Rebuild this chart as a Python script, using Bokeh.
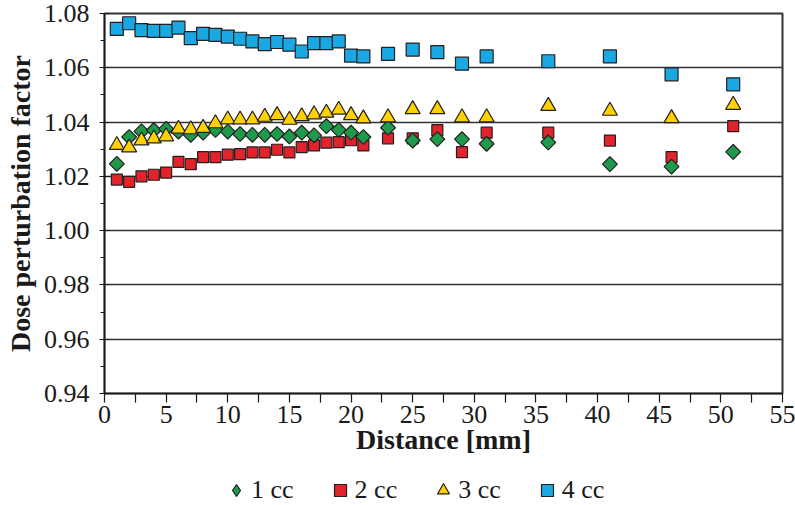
import math
from bokeh.plotting import figure
from bokeh.layouts import column
from bokeh.models import (Legend, LegendItem, ColumnDataSource, FixedTicker,
                          NumeralTickFormatter, Range1d)
from bokeh.embed import file_html
from bokeh.resources import INLINE

# ---------------- data ----------------
distance = [1, 2, 3, 4, 5, 6, 7, 8, 9, 10, 11, 12, 13, 14, 15, 16, 17, 18, 19, 20, 21,
            23, 25, 27, 29, 31, 36, 41, 46, 51]

dpf_1cc = [1.0246, 1.0345, 1.0366, 1.0370, 1.0375, 1.0365, 1.0353, 1.0361, 1.0371, 1.0365,
           1.0356, 1.0353, 1.0353, 1.0356, 1.0347, 1.0361, 1.0351, 1.0385, 1.0371, 1.0361,
           1.0345, 1.0379, 1.0332, 1.0337, 1.0337, 1.0320, 1.0325, 1.0245, 1.0236, 1.0290]

dpf_2cc = [1.0188, 1.0180, 1.0200, 1.0206, 1.0214, 1.0253, 1.0245, 1.0271, 1.0271, 1.0280,
           1.0282, 1.0288, 1.0288, 1.0298, 1.0288, 1.0308, 1.0314, 1.0324, 1.0326, 1.0333,
           1.0314, 1.0340, 1.0340, 1.0370, 1.0289, 1.0361, 1.0361, 1.0332, 1.0271, 1.0385]

dpf_3cc = [1.0315, 1.0306, 1.0332, 1.0339, 1.0347, 1.0375, 1.0373, 1.0378, 1.0395, 1.0409,
           1.0409, 1.0409, 1.0419, 1.0425, 1.0408, 1.0421, 1.0428, 1.0434, 1.0445, 1.0425,
           1.0413, 1.0417, 1.0447, 1.0447, 1.0417, 1.0417, 1.0459, 1.0441, 1.0414, 1.0463]

dpf_4cc = [1.0743, 1.0764, 1.0739, 1.0736, 1.0736, 1.0748, 1.0709, 1.0725, 1.0721, 1.0715,
           1.0707, 1.0697, 1.0687, 1.0695, 1.0685, 1.0660, 1.0691, 1.0691, 1.0697, 1.0645,
           1.0642, 1.0651, 1.0667, 1.0658, 1.0615, 1.0642, 1.0624, 1.0642, 1.0576, 1.0539]

series_labels = ["1 cc", "2 cc", "3 cc", "4 cc"]

x_ticks = [0, 5, 10, 15, 20, 25, 30, 35, 40, 45, 50, 55]
x_minor_ticks = [2.5, 7.5, 12.5, 17.5, 22.5, 27.5, 32.5, 37.5, 42.5, 47.5, 52.5]
y_ticks = [0.94, 0.96, 0.98, 1.00, 1.02, 1.04, 1.06, 1.08]
y_minor_ticks = [0.95, 0.97, 0.99, 1.01, 1.03, 1.05, 1.07]

# ---------------- styles ----------------
FONT = "Liberation Serif"
INK = "#1a1a1a"
EDGE = "#231f20"
styles = [
    dict(marker="square", angle=math.pi / 4, size=10.5, fill_color="#1f9a4a",
         legend_marker="diamond"),
    dict(marker="square", angle=0.0, size=11, fill_color="#e3232b",
         legend_marker="square"),
    dict(marker="triangle", angle=0.0, size=15, fill_color="#ffd100",
         legend_marker="triangle"),
    dict(marker="square", angle=0.0, size=13, fill_color="#1aa8e3",
         legend_marker="square"),
]

# ---------------- main figure ----------------
p_main = figure(width=795, height=472, output_backend="svg", toolbar_location=None,
                x_range=Range1d(0, 55), y_range=Range1d(0.94, 1.08),
                min_border_left=104, min_border_right=13, min_border_top=13,
                min_border_bottom=79)

p_main.background_fill_color = "white"
p_main.border_fill_color = "white"
p_main.outline_line_color = "#333333"
p_main.outline_line_width = 2

xt = FixedTicker(ticks=x_ticks, minor_ticks=x_minor_ticks)
yt = FixedTicker(ticks=y_ticks, minor_ticks=y_minor_ticks)
p_main.xaxis.ticker = xt
p_main.yaxis.ticker = yt
p_main.ygrid.ticker = yt
p_main.xgrid.visible = False
p_main.ygrid.grid_line_color = "#333333"
p_main.ygrid.grid_line_width = 1.5

p_main.yaxis.formatter = NumeralTickFormatter(format="0.00")

for ax in (p_main.xaxis[0], p_main.yaxis[0]):
    ax.axis_line_color = INK
    ax.axis_line_width = 1.5
    ax.major_tick_line_color = INK
    ax.minor_tick_line_color = INK
    ax.major_tick_line_width = 1.2
    ax.minor_tick_line_width = 1.2
    ax.major_label_text_font = FONT
    ax.major_label_text_font_size = "26px"
    ax.major_label_text_color = INK
    ax.axis_label_text_font = FONT
    ax.axis_label_text_font_size = "28px"
    ax.axis_label_text_font_style = "bold"
    ax.axis_label_text_color = INK

p_main.xaxis.axis_label = "Distance [mm]"
p_main.xaxis.major_tick_in = 0
p_main.xaxis.major_tick_out = 9
p_main.xaxis.minor_tick_in = 0
p_main.xaxis.minor_tick_out = 9
p_main.xaxis.major_label_standoff = 3
p_main.xaxis.axis_label_standoff = -2

p_main.yaxis.axis_label = "Dose perturbation factor"
p_main.yaxis.major_tick_in = 5
p_main.yaxis.major_tick_out = 5
p_main.yaxis.minor_tick_in = 0
p_main.yaxis.minor_tick_out = 4
p_main.yaxis.major_label_standoff = 10
p_main.yaxis.axis_label_standoff = 5

src = ColumnDataSource(dict(x=distance, s1=dpf_1cc, s2=dpf_2cc, s3=dpf_3cc, s4=dpf_4cc))
cols = ["s1", "s2", "s3", "s4"]
for i in [1, 0, 2, 3]:   # draw order: 2 cc below 1 cc, then 3 cc, 4 cc on top
    st = styles[i]
    p_main.scatter("x", cols[i], source=src, marker=st["marker"], angle=st["angle"],
                   size=st["size"], fill_color=st["fill_color"], line_color=EDGE,
                   line_width=1.2)

# ---------------- legend strip ----------------
# proxy renderers reuse the same data but the view range keeps them out of sight,
# so only their legend glyphs are drawn
p_leg = figure(width=795, height=33, output_backend="svg", toolbar_location=None,
               x_axis_location=None, y_axis_location=None,
               x_range=Range1d(100, 101), y_range=Range1d(100, 101),
               min_border_left=0, min_border_right=0, min_border_top=0,
               min_border_bottom=0)
p_leg.outline_line_color = None
p_leg.xgrid.visible = False
p_leg.ygrid.visible = False

items = []
for i, st in enumerate(styles):
    r = p_leg.scatter("x", cols[i], source=src, marker=st["legend_marker"],
                      size=st["size"], fill_color=st["fill_color"], line_color=EDGE,
                      line_width=1.2)
    items.append(LegendItem(label=series_labels[i], renderers=[r]))

legend = Legend(items=items, orientation="horizontal", location=(117, 0))
legend.label_text_font = FONT
legend.label_text_font_size = "26px"
legend.label_text_color = INK
legend.glyph_width = 30
legend.glyph_height = 30
legend.label_standoff = 0
legend.spacing = 31
legend.padding = 0
legend.margin = 0
legend.border_line_color = None
legend.background_fill_alpha = 0
p_leg.add_layout(legend, "center")

p = column(p_main, p_leg, spacing=0)

open("out.html", "w").write(file_html(p, INLINE))
